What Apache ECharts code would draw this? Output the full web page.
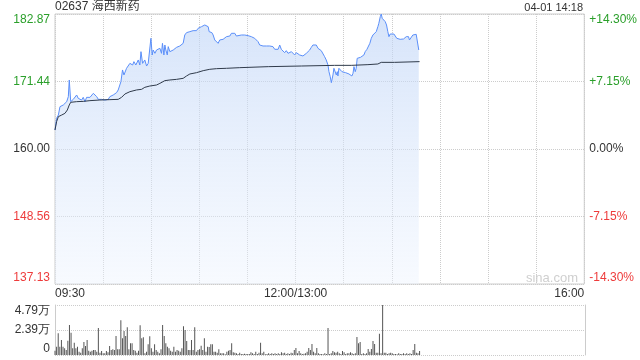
<!DOCTYPE html>
<html>
<head>
<meta charset="utf-8">
<script src="https://cdn.jsdelivr.net/npm/echarts@6/dist/echarts.min.js"></script>
<style>
html,body{margin:0;padding:0;background:#fff;}
#c{width:640px;height:360px;}
</style>
</head>
<body>
<div id="c"></div>
<script>
// ---- data ----
const stockTitle = '02637 海西新药';
const stampText = '04-01 14:18';
const prevClose = 160.00;
const priceMin = 137.13, priceMax = 182.87, priceStep = 11.435;
const priceTicks = ['137.13', '148.56', '160.00', '171.44', '182.87'];
const pctTicks = ['-14.30%', '-7.15%', '0.00%', '+7.15%', '+14.30%'];
const timeTicks = { 0: '09:30', 150: '12:00/13:00', 330: '16:00' };
const volMax = 47900;
const volTicks = ['0', '2.39万', '4.79万'];

// minute offsets since 09:30 (lunch break removed) and prices
const priceMinutes = [0,1.0,2.1,3.1,4.1,5.2,6.2,7.3,8.3,8.9,9.8,10.4,11.4,12.5,13.5,14.5,15.6,16.6,17.6,18.7,19.7,20.8,21.8,22.8,23.9,24.9,26.0,27.0,28.0,29.1,30.1,31.1,32.2,33.2,34.2,35.3,36.3,37.4,38.4,39.4,40.5,41.1,42.1,43.0,43.6,44.6,45.7,46.7,47.7,48.4,49.2,50.4,51.3,51.9,52.9,53.6,54.6,55.4,56.0,57.1,58.1,59.1,59.8,60.6,61.2,62.3,63.3,64.3,65.4,66.4,67.0,67.9,68.5,69.1,70.0,70.6,71.6,72.6,73.7,74.7,75.8,76.8,77.8,78.9,79.9,80.9,82.0,83.0,84.1,85.1,86.1,87.2,88.2,89.2,90.3,91.3,92.4,93.4,94.4,95.5,96.1,96.9,97.8,98.6,99.6,100.7,101.7,102.7,103.8,104.8,105.8,106.9,107.9,109.0,110.0,111.0,
112.1,113.1,114.1,116.2,118.3,120.4,122.4,124.5,125.6,126.6,127.6,128.7,129.7,130.7,131.8,132.8,133.9,134.9,135.9,137.0,138.0,139.1,140.1,141.1,142.2,143.2,144.2,145.3,146.3,147.4,148.4,149.4,150.5,151.5,152.5,153.6,154.6,155.7,156.7,157.7,158.8,159.8,160.8,161.9,162.9,164.0,165.0,166.0,167.1,168.1,169.1,170.2,170.8,171.6,172.3,173.3,173.9,174.8,175.4,176.0,176.4,177.0,178.1,178.9,180.1,181.2,182.2,183.3,184.3,185.1,185.8,186.4,187.2,187.8,188.4,189.3,190.5,191.4,192.6,193.4,194.5,195.5,196.3,197.2,198.2,199.2,200.3,201.3,201.9,202.8,203.4,204.0,204.8,205.9,206.7,207.5,208.2,209.0,210.0,211.3,212.1,213.1,214.2,215.2,216.3,217.3,218.3,219.0,219.6,220.4,221.0,222.1,223.1,224.1,225.2,226.2,226.8];
const priceValues = [163.22,165.20,165.76,167.17,166.89,167.46,167.74,168.02,168.87,171.69,168.02,168.30,168.41,168.30,169.15,168.58,168.75,168.30,168.75,168.02,168.75,168.58,168.75,168.58,169.43,169.15,168.87,168.41,168.58,168.41,168.58,168.30,168.41,168.41,168.87,169.15,169.15,169.43,169.55,170.00,169.88,171.41,173.39,172.54,172.82,173.67,173.95,174.51,174.80,174.23,174.80,174.23,174.51,175.08,174.23,176.49,174.51,174.23,175.08,174.06,174.51,174.80,178.75,175.93,176.77,176.21,176.77,176.49,177.06,176.21,177.90,175.93,177.62,176.77,175.93,177.34,176.49,176.77,176.77,177.06,177.22,177.34,177.45,177.62,177.90,179.31,179.71,179.48,179.88,179.60,180.05,180.16,180.05,180.44,180.44,180.72,180.84,181.01,180.84,180.72,179.88,180.16,179.71,179.31,178.47,178.18,177.90,178.47,178.18,178.58,178.75,179.03,178.75,179.14,179.60,179.71,
179.60,179.14,179.31,179.31,179.31,179.20,179.03,178.75,178.47,178.18,177.62,177.34,177.45,177.22,177.45,177.34,177.45,177.45,177.34,176.89,176.77,176.89,177.62,176.89,176.66,176.32,176.66,176.21,176.49,176.49,176.32,175.93,176.32,176.21,175.93,176.09,175.76,175.76,176.21,176.49,176.77,177.22,177.62,177.90,177.62,177.05,176.77,176.66,176.49,175.64,175.08,174.23,173.10,172.25,171.24,172.54,173.67,173.38,172.54,173.10,172.37,173.67,173.50,173.10,173.21,172.93,172.82,172.71,172.54,172.37,172.82,173.95,173.10,173.67,175.36,175.64,175.53,175.64,175.93,176.49,176.89,177.05,177.90,178.75,179.31,179.60,179.88,180.72,181.29,182.42,182.87,182.14,181.85,181.57,181.01,179.88,179.03,179.48,179.60,179.48,179.31,178.75,178.47,178.58,178.58,178.64,178.58,179.03,178.75,179.03,178.47,178.58,179.31,179.43,179.43,179.31,176.77];

const avgMinutes = [0,1.0,2.1,4.2,6.2,7.7,8.9,9.8,13.5,17.6,21.8,28.0,34.2,39.4,41.5,43.6,46.7,50.8,54.0,56.0,59.1,63.3,65.4,68.5,71.6,75.8,79.9,82.0,84.1,88.2,92.4,96.5,100.7,106.9,115.2,133.0,153.6,174.3,184.7,195.1,201.3,203.4,211.7,227.3];
const avgValues = [163.22,164.63,165.48,165.76,166.04,166.61,167.46,167.91,168.02,168.07,168.19,168.30,168.36,168.41,168.75,169.32,169.71,170.00,170.11,170.45,170.67,170.84,171.12,171.58,171.69,171.80,171.97,172.37,172.71,172.93,173.27,173.50,173.61,173.67,173.78,173.95,174.06,174.17,174.17,174.29,174.40,174.68,174.68,174.80];

// per-minute volume (shares), minute 0 = 09:30
const volumes = [4150,7980,20760,7980,14370,7980,6390,4790,13730,28740,21390,6390,11810,6390,7980,3190,2240,6390,12450,8620,14370,4150,3190,4150,4790,4790,3190,25860,2240,3830,1600,1600,3830,2550,8620,4790,5430,4790,18200,5430,5430,33210,15970,22990,18200,26500,5430,11180,11180,4790,4150,2240,4150,28420,15970,16920,1600,3190,10220,17880,6390,3190,10220,4790,3190,1600,5430,28740,18200,11180,7980,6390,4150,3190,7980,3190,4790,4150,3190,6390,27460,23950,13410,4790,4790,14370,4790,26500,3190,4790,5430,8940,4790,15970,3190,7980,7660,10220,10220,3190,3190,2240,5430,1600,1600,1600,640,3190,4150,4790,11180,2550,
2240,1600,960,2240,960,960,1280,960,960,960,2550,1600,960,3190,960,2240,11810,1600,3190,640,960,1600,960,1600,960,1600,960,1600,960,2550,1600,2240,960,1600,960,2240,1600,4790,6710,1600,3830,1600,960,1280,1600,3190,6710,4790,10540,3190,1600,6710,1600,960,960,640,1600,960,25860,960,1600,3830,2550,2240,3190,1600,960,3830,2550,960,1600,1600,2550,1600,960,1600,17240,11180,12450,960,1600,960,1600,5750,3190,5750,13410,10540,2240,2240,20440,1600,47900,2240,2240,960,1600,2240,1600,960,960,640,1600,960,960,1600,960,1600,960,1600,960,4790,10540,2240,1600,3830];

// ---- build ----
const GREEN = '#2a9f2a', RED = '#ee3b3b', DARK = '#333';
const priceData = priceMinutes.map((m, i) => [m, priceValues[i]]);
const avgData = avgMinutes.map((m, i) => [m, avgValues[i]]);
const volData = volumes.map((v, i) => [i, v]);
const tickIdx = v => Math.round((v - priceMin) / priceStep);
const tickColor = v => { const i = tickIdx(v); return i > 2 ? GREEN : (i < 2 ? RED : DARK); };

const chart = echarts.init(document.getElementById('c'), null, { renderer: 'canvas' });
const dotted = { color: '#ccc', type: 'dotted', width: 1 };
chart.setOption({
  animation: false,
  textStyle: { fontFamily: 'Liberation Sans, Arial, sans-serif' },
  title: [
    { text: stockTitle, left: 55, top: 1, padding: 0, textStyle: { fontSize: 12, fontWeight: 'normal', color: '#333', fontFamily: 'Liberation Sans, Noto Sans CJK SC, sans-serif' } },
    { text: stampText, right: 57, top: 2, padding: 0, textStyle: { fontSize: 11, fontWeight: 'normal', color: '#333' } }
  ],
  graphic: [{ type: 'text', right: 62, top: 272, style: { text: 'sina.com', fill: '#cfcfcf', fontSize: 13, fontFamily: 'Liberation Sans, Arial, sans-serif' }, z: 0 }],
  grid: [
    { left: 55, right: 55, top: 14, height: 270, show: true, borderColor: '#ccc', borderWidth: 1, backgroundColor: 'transparent' },
    { left: 55, right: 55, top: 305, height: 50 }
  ],
  xAxis: [
    { gridIndex: 0, type: 'value', min: 0, max: 330, interval: 30,
      axisLine: { show: false }, axisTick: { show: false },
      splitLine: { show: true, lineStyle: dotted },
      axisLabel: { margin: 4, fontSize: 12, color: '#333', showMinLabel: true, showMaxLabel: true,
        alignMinLabel: 'left', alignMaxLabel: 'right',
        formatter: v => timeTicks[v] || '' } },
    { gridIndex: 1, type: 'value', min: 0, max: 330, interval: 30, show: true,
      axisLine: { show: false }, axisTick: { show: false }, axisLabel: { show: false }, splitLine: { show: false } }
  ],
  yAxis: [
    { gridIndex: 0, type: 'value', min: priceMin, max: priceMax, interval: priceStep, position: 'left',
      axisLine: { show: false }, axisTick: { show: false }, splitLine: { show: true, lineStyle: dotted },
      axisLabel: { margin: 5, fontSize: 12, color: tickColor, formatter: v => priceTicks[tickIdx(v)],
        verticalAlignMaxLabel: 'top', verticalAlignMinLabel: 'bottom' } },
    { gridIndex: 0, type: 'value', min: priceMin, max: priceMax, interval: priceStep, position: 'right',
      axisLine: { show: false }, axisTick: { show: false }, splitLine: { show: false },
      axisLabel: { margin: 5, fontSize: 12, color: tickColor, formatter: v => pctTicks[tickIdx(v)],
        verticalAlignMaxLabel: 'top', verticalAlignMinLabel: 'bottom' } },
    { gridIndex: 1, type: 'value', min: 0, max: volMax, interval: volMax / 2, position: 'left',
      axisLine: { show: true, lineStyle: { color: '#ccc' } }, axisTick: { show: false },
      splitLine: { show: true, lineStyle: dotted },
      axisLabel: { margin: 5, fontSize: 12, color: '#333', formatter: v => volTicks[Math.round(v / (volMax / 2))],
        verticalAlignMaxLabel: 'top', verticalAlignMinLabel: 'bottom' } },
    { gridIndex: 1, type: 'value', min: 0, max: volMax, interval: volMax / 2, position: 'right',
      axisLine: { show: true, lineStyle: { color: '#ccc' } }, axisTick: { show: false },
      splitLine: { show: false }, axisLabel: { show: false } }
  ],
  series: [
    { type: 'line', xAxisIndex: 0, yAxisIndex: 0, data: priceData, showSymbol: false, symbol: 'none',
      lineStyle: { color: '#5b8ff9', width: 1 },
      areaStyle: { origin: 'start', color: new echarts.graphic.LinearGradient(0, 0, 0, 1, [
        { offset: 0, color: 'rgba(190,212,247,0.9)' }, { offset: 1, color: 'rgba(236,243,254,0.6)' }]) },
      z: 3 },
    { type: 'line', xAxisIndex: 0, yAxisIndex: 0, data: avgData, showSymbol: false, symbol: 'none',
      lineStyle: { color: '#2f3a4a', width: 1 }, z: 4 },
    { type: 'bar', xAxisIndex: 1, yAxisIndex: 2, data: volData, barWidth: 1,
      itemStyle: { color: '#555' } }
  ]
});
</script>
</body>
</html>
